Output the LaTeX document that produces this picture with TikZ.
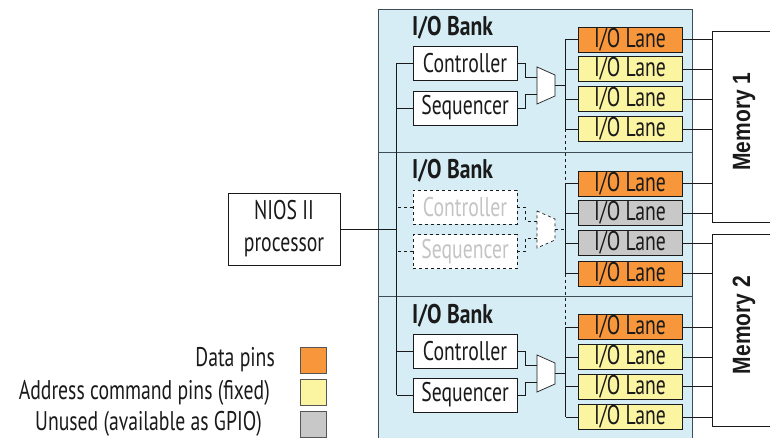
\documentclass[tikz,border=0pt]{standalone}
\usepackage{fontspec}
\setmainfont[FakeStretch=0.73, BoldFeatures={FakeStretch=0.8}]{PT Sans}
\newfontfamily\memfont[FakeStretch=0.84]{Liberation Sans}
\usetikzlibrary{calc}
\definecolor{ink}{HTML}{1A1A1A}
\definecolor{fade}{HTML}{C4C4C4}
\definecolor{bankfill}{HTML}{D6EDF5}
\definecolor{bankline}{HTML}{3E4E54}
\definecolor{datapin}{HTML}{F7963B}
\definecolor{addrpin}{HTML}{FBF4A0}
\definecolor{unused}{HTML}{C8C8C8}
\definecolor{keyline}{HTML}{555555}
\tikzset{
  txt/.style={font=\fontsize{27}{32}\selectfont, text=ink},
  box/.style={draw=ink, fill=white, line width=0.8pt, inner sep=0pt,
    minimum width=104pt, minimum height=34pt, txt},
  offbox/.style={box, dashed, text=fade},
  lane/.style={box, minimum height=25pt, fill=#1},
  bank/.style={draw=bankline, fill=bankfill, line width=0.9pt, inner sep=0pt,
    minimum width=314pt},
  banklbl/.style={font=\fontsize{27}{29}\selectfont\bfseries, text=ink,
    anchor=west, inner sep=0pt},
  muxline/.style={draw=ink, fill=white, line width=0.7pt},
  pics/mux/.style={code={
    \draw[muxline, #1] (-9,-18.5) -- (9,-10.5) -- (9,10.5) -- (-9,18.5) -- cycle;}},
  wire/.style={draw=ink, line width=0.8pt},
  offwire/.style={wire, dashed},
  mem/.style={draw=ink, fill=white, line width=0.9pt, inner sep=0pt,
    minimum width=100pt},
  memlbl/.style={font=\memfont\bfseries\fontsize{25}{27}\selectfont, text=ink,
    rotate=90, inner sep=0pt},
  key/.style={draw=keyline, fill=#1, line width=0.8pt, minimum size=26pt,
    inner sep=0pt},
  keylbl/.style={txt, anchor=east, inner sep=0pt},
}

\begin{document}
\begin{tikzpicture}[x=1pt, y=-1pt]
  \clip (0,0) rectangle (770,438);

  % ---------------- the three banks ----------------
  \node[bank, minimum height=143pt] (bank1) at (535,80.5) {};
  \node[bank, minimum height=144pt] (bank2) at (535,224) {};
  \node[bank, minimum height=164pt] (bank3) at (535,378) {};
  \node[banklbl] at (412,28) {I/O Bank};
  \node[banklbl] at (412,171) {I/O Bank};
  \node[banklbl] at (412,316) {I/O Bank};

  % ---------------- memories ----------------
  \node[mem, minimum height=191pt] (mem1) at (762,126.5) {};
  \node[mem, minimum height=192pt] (mem2) at (762,330) {};
  \node[memlbl] at (744,121.5) {Memory 1};
  \node[memlbl] at (744,325) {Memory 2};

  % ---------------- processor ----------------
  \node[box, minimum width=112pt, minimum height=72pt, align=center] (nios) at (284,229)
    {NIOS II\\processor};

  % ---------------- controllers and sequencers ----------------
  \node[box] (ctrl1) at (465,63.5) {Controller};
  \node[box] (seq1) at (465,108) {Sequencer};
  \node[offbox] (ctrl2) at (465,207.5) {Controller};
  \node[offbox] (seq2) at (465,251.5) {Sequencer};
  \node[box] (ctrl3) at (465,351) {Controller};
  \node[box] (seq3) at (465,395) {Sequencer};

  \coordinate (mux1) at (546,85.5);
  \coordinate (mux2) at (546,229.5);
  \coordinate (mux3) at (546,373.5);
  \pic at (mux1) {mux};
  \pic at (mux2) {mux=dashed};
  \pic at (mux3) {mux};

  % ---------------- lanes ----------------
  \node[lane=datapin] (l11) at (630,39.5) {I/O Lane};
  \node[lane=addrpin] (l12) at (630,69) {I/O Lane};
  \node[lane=addrpin] (l13) at (630,99) {I/O Lane};
  \node[lane=addrpin] (l14) at (630,129) {I/O Lane};
  \node[lane=datapin] (l21) at (630,183.5) {I/O Lane};
  \node[lane=unused] (l22) at (630,213) {I/O Lane};
  \node[lane=unused] (l23) at (630,243) {I/O Lane};
  \node[lane=datapin] (l24) at (630,273.5) {I/O Lane};
  \node[lane=datapin] (l31) at (630,327) {I/O Lane};
  \node[lane=addrpin] (l32) at (630,357) {I/O Lane};
  \node[lane=addrpin] (l33) at (630,386.5) {I/O Lane};
  \node[lane=addrpin] (l34) at (630,417) {I/O Lane};

  % ---------------- wiring ----------------
  % processor bus
  \draw[wire] (ctrl1.west) -- ++(-16,0) coordinate (p1);
  \draw[wire] (seq1.west) -- ++(-16,0);
  \draw[offwire] (ctrl2.west) -- ++(-16,0);
  \draw[offwire] (seq2.west) -- ++(-16,0);
  \draw[wire] (ctrl3.west) -- ++(-16,0);
  \draw[wire] (seq3.west) -- ++(-16,0) coordinate (p6);
  \draw[wire] (p1) -- (p6);
  \draw[wire] (nios.east) -- (nios.east -| p1);

  % into the muxes
  \draw[wire] (ctrl1.east) -- ++(8,0) |- ($(mux1)+(-9,-8.5)$);
  \draw[wire] (seq1.east) -- ++(8,0) |- ($(mux1)+(-9,8.5)$);
  \draw[offwire] (ctrl2.east) -- ++(8,0) |- ($(mux2)+(-9,-8.5)$);
  \draw[offwire] (seq2.east) -- ++(8,0) |- ($(mux2)+(-9,8.5)$);
  \draw[wire] (ctrl3.east) -- ++(8,0) |- ($(mux3)+(-9,-8.5)$);
  \draw[wire] (seq3.east) -- ++(8,0) |- ($(mux3)+(-9,8.5)$);

  % lane bus
  \foreach \b in {1,2,3}{
    \foreach \l in {1,2,3,4}{
      \draw[wire] (l\b\l.west) -- ++(-12,0) coordinate (s\b\l);
    }
    \draw[wire] (s\b1) -- (s\b4);
  }
  \draw[wire] ($(mux1)+(9,0)$) -- (mux1 -| s11);
  \draw[offwire] ($(mux2)+(9,0)$) -- (mux2 -| s21);
  \draw[wire] ($(mux3)+(9,0)$) -- (mux3 -| s31);
  \draw[offwire] (s14) -- (s21);
  \draw[offwire] (s24) -- (s31);

  % lanes to memories
  \foreach \n in {l11,l12,l13,l14,l21,l22}
    \draw[wire] (\n.east) -- (\n.east -| mem1.west);
  \foreach \n in {l23,l24,l31,l32,l33,l34}
    \draw[wire] (\n.east) -- (\n.east -| mem2.west);

  % ---------------- legend ----------------
  \node[key=datapin] (k1) at (313,360) {};
  \node[key=addrpin] (k2) at (313,392.5) {};
  \node[key=unused] (k3) at (313,424) {};
  \node[keylbl] at (275,360) {Data pins};
  \node[keylbl] at (270,392.5) {Address command pins (fixed)};
  \node[keylbl] at (262,424) {Unused (available as GPIO)};
\end{tikzpicture}
\end{document}
